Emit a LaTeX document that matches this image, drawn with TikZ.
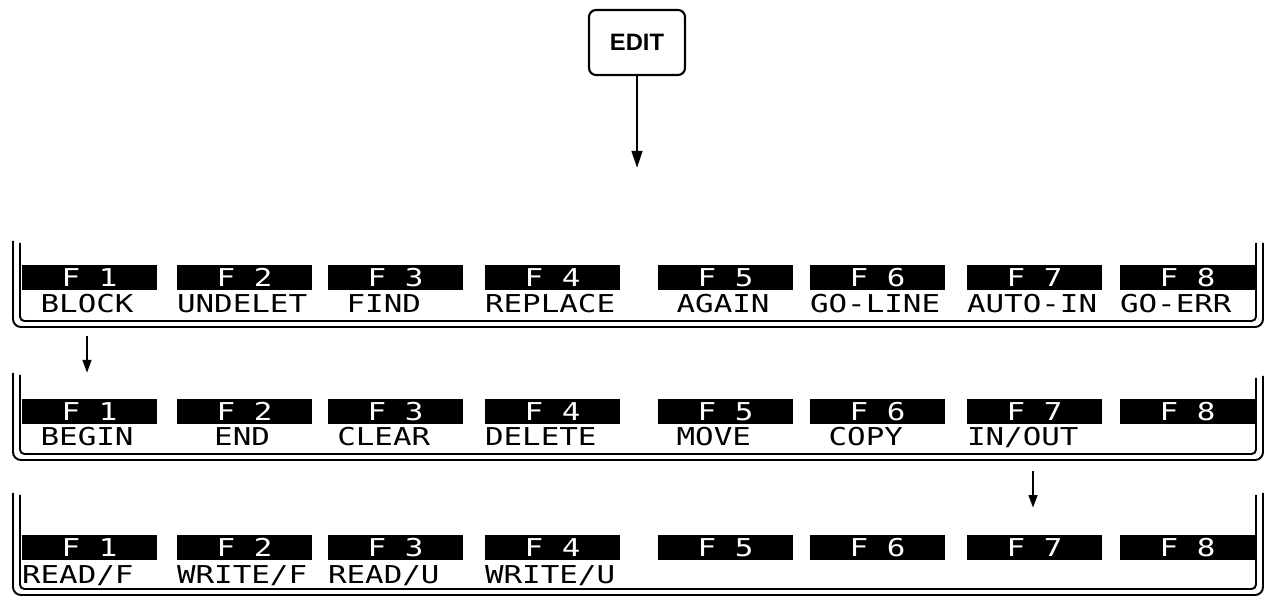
\documentclass[tikz,border=0pt]{standalone}
\usepackage{fontspec}
\usepackage{tikz}
\usetikzlibrary{calc,arrows.meta}
\setmainfont{Liberation Sans}
\newfontfamily\keyfont[FakeStretch=1.255]{DejaVu Sans Mono}
\tikzset{
	keybar/.style={fill=black,text=white,minimum width=2.7cm,minimum height=0.5cm,inner sep=0pt,text height=0.36cm,text depth=0pt,font=\fontsize{14}{15}\keyfont},
	keylabel/.style={anchor=west,inner sep=0pt,text height=0.36cm,text depth=0pt,font=\fontsize{14}{15}\keyfont},
	outerframe/.style={line width=1.1pt,rounded corners=4.5pt},
	innerframe/.style={line width=1.1pt,rounded corners=2.5pt},
	directed/.style={line width=1.4pt,arrows={-Triangle[length=0.34cm,width=0.21cm]}},
	shortdirected/.style={line width=1.5pt,arrows={-Triangle[length=0.26cm,width=0.17cm]}},
	menu/.style={draw,line width=1.2pt,rounded corners=4pt,minimum width=1.92cm,minimum height=1.3cm,inner sep=0pt,font=\bfseries\fontsize{13.5}{15}\selectfont}
}
\begin{document}
\begin{tikzpicture}[x=0.02cm,y=-0.02cm]
		\useasboundingbox (0,0) rectangle (1265,597);
		
		\node[menu] (edit) at (637,42.5) {EDIT};
		\coordinate (menuin) at (637,168);
		\draw[directed] (edit) -- (menuin);
		
		% frames round the three rows
		\draw[outerframe] (13,241) -- (13,327) -- (1263,327) -- (1263,243);
		\draw[innerframe] (20,243) -- (20,321) -- (1256,321) -- (1256,243);
		\draw[outerframe] (13,373) -- (13,460) -- (1263,460) -- (1263,376);
		\draw[innerframe] (20,375) -- (20,454) -- (1256,454) -- (1256,378);
		\draw[outerframe] (13,493) -- (13,595) -- (1263,595) -- (1263,493);
		\draw[innerframe] (20,495) -- (20,589) -- (1256,589) -- (1256,495);
		
		% function keys
		\foreach \i/\x in {1/22,2/177,3/328,4/485,5/658,6/810,7/967,8/1120} {
			\node[keybar] (t\i) at (\x+67.5,277.5) {F \i};
			\node[keybar] (m\i) at (\x+67.5,411.5) {F \i};
			\node[keybar] (b\i) at (\x+67.5,547.5) {F \i};
		}
		
		% top row
		\node[keylabel] (tl1) at ($(t1.west)+(18.6,26.5)$) {BLOCK};
		\node[keylabel] (tl2) at ($(t2.west)+(0,26.5)$) {UNDELET};
		\node[keylabel] (tl3) at ($(t3.west)+(18.6,26.5)$) {FIND};
		\node[keylabel] (tl4) at ($(t4.west)+(0,26.5)$) {REPLACE};
		\node[keylabel] (tl5) at ($(t5.west)+(18.6,26.5)$) {AGAIN};
		\node[keylabel] (tl6) at ($(t6.west)+(0,26.5)$) {GO-LINE};
		\node[keylabel] (tl7) at ($(t7.west)+(0,26.5)$) {AUTO-IN};
		\node[keylabel] (tl8) at ($(t8.west)+(0,26.5)$) {GO-ERR};
		
		% middle row
		\node[keylabel] (ml1) at ($(m1.west)+(18.6,25)$) {BEGIN};
		\node[keylabel] (ml2) at ($(m2.west)+(37.2,25)$) {END};
		\node[keylabel] (ml3) at ($(m3.west)+(9.3,25)$) {CLEAR};
		\node[keylabel] (ml4) at ($(m4.west)+(0,25)$) {DELETE};
		\node[keylabel] (ml5) at ($(m5.west)+(18.6,25)$) {MOVE};
		\node[keylabel] (ml6) at ($(m6.west)+(18.6,25)$) {COPY};
		\node[keylabel] (ml7) at ($(m7.west)+(0,25)$) {IN/OUT};
		
		% bottom row
		\node[keylabel] (bl1) at ($(b1.west)+(0,27.5)$) {READ/F};
		\node[keylabel] (bl2) at ($(b2.west)+(0,27.5)$) {WRITE/F};
		\node[keylabel] (bl3) at ($(b3.west)+(0,27.5)$) {READ/U};
		\node[keylabel] (bl4) at ($(b4.west)+(0,27.5)$) {WRITE/U};
		
		\coordinate (blockout) at (87,336);
		\coordinate (blockin) at (87,373);
		\draw[shortdirected] (blockout) -- (blockin);
		\coordinate (inoutout) at (1033,471);
		\coordinate (inoutin) at (1033,508);
		\draw[shortdirected] (inoutout) -- (inoutin);
\end{tikzpicture}
\end{document}
